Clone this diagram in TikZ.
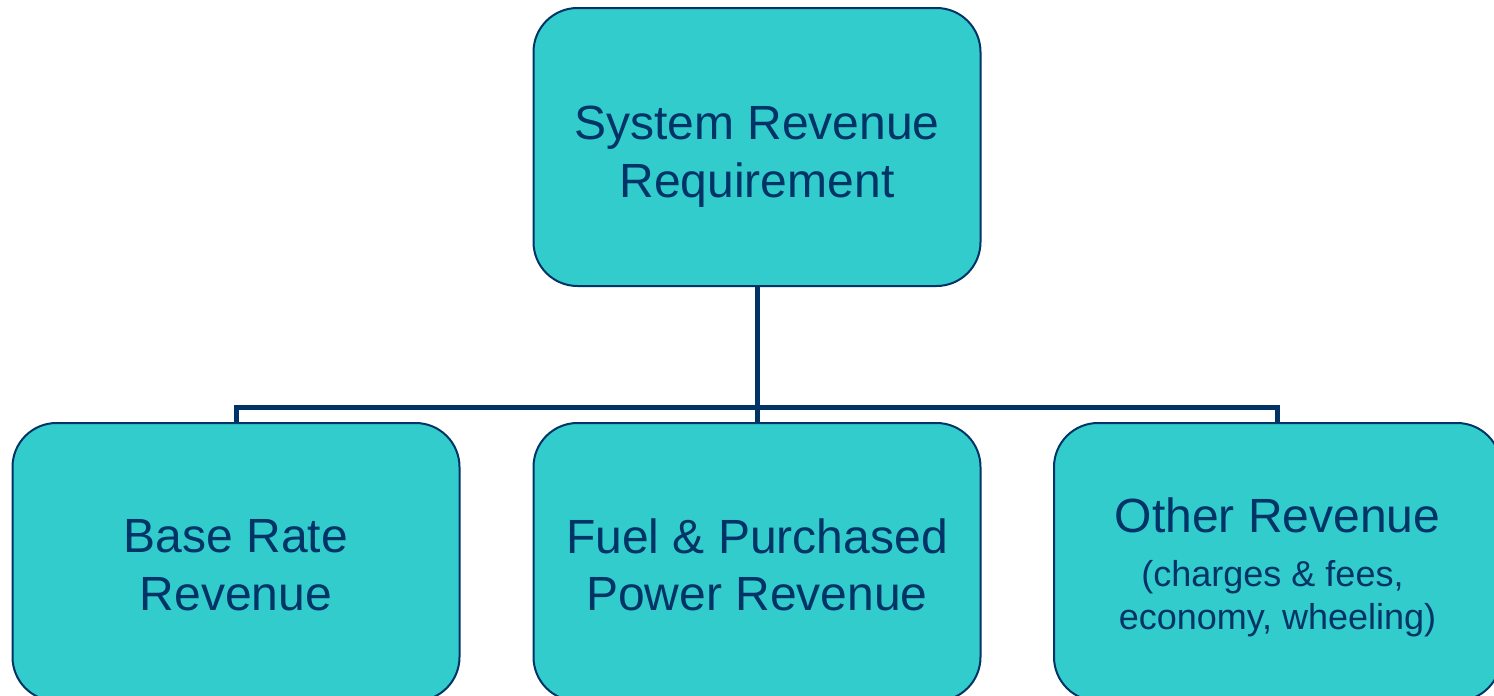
\documentclass[tikz,border=0pt]{standalone}
\usepackage{fontspec}
\setmainfont{Liberation Sans}
\definecolor{boxfill}{HTML}{33CCCC}
\definecolor{navy}{HTML}{003366}
\newcommand{\bigsize}{\fontsize{24}{28.8}\selectfont}
\newcommand{\notesize}{\fontsize{18}{21.6}\selectfont}
\begin{document}
\begin{tikzpicture}[x=0.5pt,y=-0.5pt,
  revbox/.style={draw=navy, line width=1pt, fill=boxfill, rounded corners=22pt,
    minimum width=223.5pt, minimum height=139pt, inner sep=0pt},
  boxtext/.style={align=center, text=navy, inner sep=0pt, font=\bigsize},
  link/.style={draw=navy, line width=2.5pt}]
  \useasboundingbox (0,0) rectangle (1494,696);
  \clip (0,0) rectangle (1494,696);
  % top level and the three revenue streams
  \node[revbox] (top) at (757,147) {};
  \node[revbox] (base) at (236,562) {};
  \node[revbox] (fuel) at (757,562) {};
  \node[revbox] (other) at (1277.5,562) {};
  % their labels
  \node[boxtext] (toptext) at ([yshift=-5pt]top.center) {System Revenue\\Requirement};
  \node[boxtext] (basetext) at ([yshift=-1.5pt]base.center) {Base Rate\\Revenue};
  \node[boxtext] (fueltext) at ([yshift=-1.5pt]fuel.center) {Fuel \& Purchased\\Power Revenue};
  \node[boxtext, font=\notesize] (othertext) at ([yshift=-2.5pt]other.center)
    {{\bigsize Other Revenue}\\[5.4pt]
     (charges \& fees,\kern0.278em\\economy, wheeling)};
  % tree connectors
  \coordinate (bus) at (757,407);
  \draw[link] (top.south) -- (bus);
  \draw[link] (base.north) |- (bus) -| (other.north);
  \draw[link] (bus) -- (fuel.north);
\end{tikzpicture}
\end{document}
